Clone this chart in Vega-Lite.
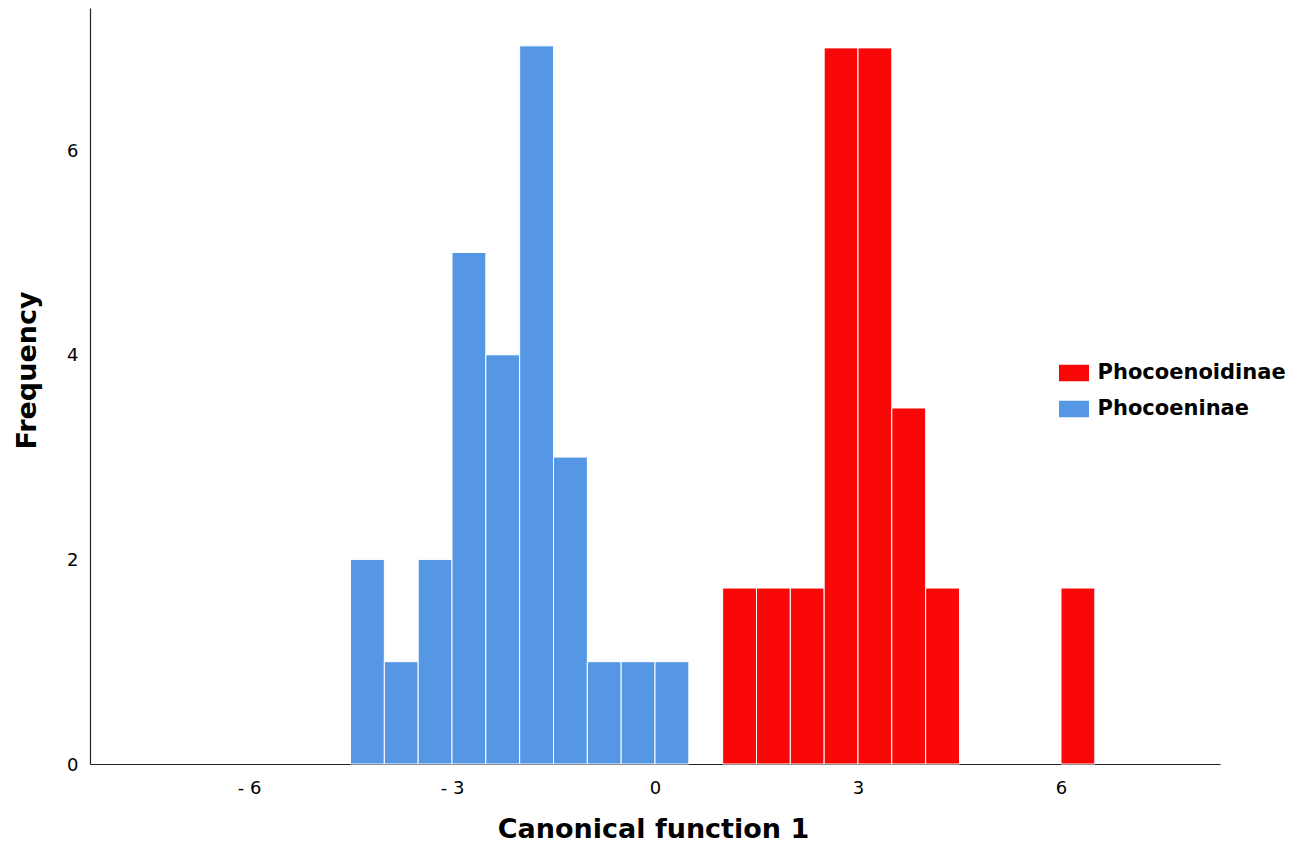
{
  "$schema": "https://vega.github.io/schema/vega-lite/v6.json",
  "width": 1130,
  "height": 756,
  "autosize": {"type": "none"},
  "padding": {"left": 90, "top": 8, "right": 74, "bottom": 82},
  "background": "white",
  "config": {
    "view": {"stroke": null},
    "font": "DejaVu Sans"
  },
  "data": {
    "values": [
      {"group": "Phocoeninae", "start": -4.5, "end": -4.0, "freq": 2},
      {"group": "Phocoeninae", "start": -4.0, "end": -3.5, "freq": 1},
      {"group": "Phocoeninae", "start": -3.5, "end": -3.0, "freq": 2},
      {"group": "Phocoeninae", "start": -3.0, "end": -2.5, "freq": 5},
      {"group": "Phocoeninae", "start": -2.5, "end": -2.0, "freq": 4},
      {"group": "Phocoeninae", "start": -2.0, "end": -1.5, "freq": 7.02},
      {"group": "Phocoeninae", "start": -1.5, "end": -1.0, "freq": 3},
      {"group": "Phocoeninae", "start": -1.0, "end": -0.5, "freq": 1},
      {"group": "Phocoeninae", "start": -0.5, "end": 0.0, "freq": 1},
      {"group": "Phocoeninae", "start": 0.0, "end": 0.5, "freq": 1},
      {"group": "Phocoenoidinae", "start": 1.0, "end": 1.5, "freq": 1.72},
      {"group": "Phocoenoidinae", "start": 1.5, "end": 2.0, "freq": 1.72},
      {"group": "Phocoenoidinae", "start": 2.0, "end": 2.5, "freq": 1.72},
      {"group": "Phocoenoidinae", "start": 2.5, "end": 3.0, "freq": 7.0},
      {"group": "Phocoenoidinae", "start": 3.0, "end": 3.5, "freq": 7.0},
      {"group": "Phocoenoidinae", "start": 3.5, "end": 4.0, "freq": 3.48},
      {"group": "Phocoenoidinae", "start": 4.0, "end": 4.5, "freq": 1.72},
      {"group": "Phocoenoidinae", "start": 6.0, "end": 6.5, "freq": 1.72}
    ]
  },
  "mark": {"type": "bar", "stroke": "white", "strokeWidth": 1, "opacity": 1},
  "encoding": {
    "x": {
      "field": "start",
      "type": "quantitative",
      "scale": {"domain": [-8.35, 8.35], "nice": false, "zero": false},
      "axis": {
        "title": "Canonical function 1",
        "values": [-6, -3, 0, 3, 6],
        "labelExpr": "datum.value < 0 ? '- ' + abs(datum.value) : datum.label",
        "grid": false,
        "ticks": false,
        "domainColor": "#222222",
        "domainWidth": 1.2,
        "labelFont": "DejaVu Sans",
        "labelFontSize": 18,
        "labelColor": "#000000",
        "labelPadding": 15,
        "titleFont": "DejaVu Sans",
        "titleFontSize": 27,
        "titleFontWeight": "bold",
        "titleColor": "#000000",
        "titleX": 563,
        "titleY": 73,
        "titleBaseline": "alphabetic",
        "titleAlign": "center"
      }
    },
    "x2": {"field": "end"},
    "y": {
      "field": "freq",
      "type": "quantitative",
      "scale": {"domain": [0, 7.39], "nice": false, "zero": true},
      "axis": {
        "title": "Frequency",
        "values": [0, 2, 4, 6],
        "grid": false,
        "ticks": false,
        "domainColor": "#222222",
        "domainWidth": 1.2,
        "labelFont": "DejaVu Sans",
        "labelFontSize": 18,
        "labelColor": "#000000",
        "labelPadding": 12,
        "labelOffset": 1,
        "titleFont": "DejaVu Sans",
        "titleFontSize": 27,
        "titleFontWeight": "bold",
        "titleColor": "#000000",
        "titleAngle": -90,
        "titleX": -55,
        "titleY": 362,
        "titleBaseline": "alphabetic",
        "titleAlign": "center"
      }
    },
    "y2": {"datum": 0},
    "color": {
      "field": "group",
      "type": "nominal",
      "scale": {"domain": ["Phocoenoidinae", "Phocoeninae"], "range": ["#FA0808", "#5597E4"]},
      "legend": {
        "title": null,
        "orient": "none",
        "legendX": 969,
        "legendY": 350,
        "padding": 0,
        "symbolType": "M-1,-0.55L1,-0.55L1,0.55L-1,0.55Z",
        "symbolSize": 900,
        "symbolStrokeWidth": 0,
        "symbolOpacity": 1,
        "labelFont": "DejaVu Sans",
        "labelFontSize": 21,
        "labelFontWeight": "bold",
        "labelColor": "#000000",
        "labelOffset": 8.6,
        "rowPadding": 11,
        "labelLimit": 400
      }
    }
  }
}
